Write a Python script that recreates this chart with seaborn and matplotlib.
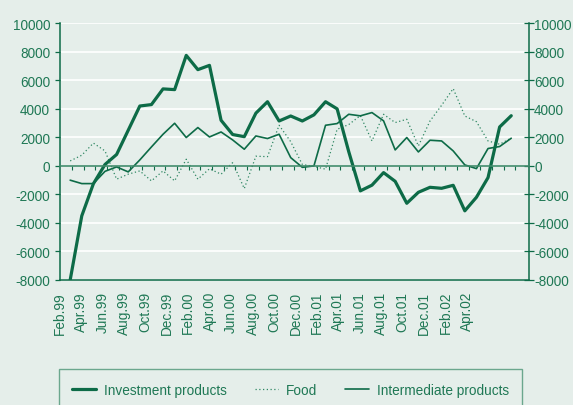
import numpy as np
import pandas as pd
import matplotlib
matplotlib.use("Agg")
import matplotlib.pyplot as plt
import seaborn as sns

# ---- data ----
month_labels = ["Feb.99", "Apr.99", "Jun.99", "Aug.99", "Oct.99", "Dec.99", "Feb.00", "Apr.00",
                "Jun.00", "Aug.00", "Oct.00", "Dec.00", "Feb.01", "Apr.01", "Jun.01", "Aug.01",
                "Oct.01", "Dec.01", "Feb.02", "Apr.02"]
months = list(range(39))  # Feb.99 .. Apr.02, monthly

investment = [-8000, -3500, -1250, 100, 800, 2500, 4200, 4300, 5400, 5350,
              7750, 6750, 7050, 3200, 2200, 2050, 3700, 4500, 3150, 3500,
              3150, 3580, 4500, 4000, 1000, -1750, -1350, -470, -1080, -2620,
              -1850, -1500, -1570, -1360, -3150, -2200, -820, 2730, 3520]
food = [350, 750, 1600, 1050, -930, -580, -350, -1050, -350, -1050,
        470, -930, -200, -580, 230, -1590, 680, 650, 2850, 1700,
        100, -30, -230, 2570, 2900, 3530, 1750, 3620, 3040, 3270,
        1400, 3150, 4250, 5420, 3500, 3100, 1750, 1520, 1950]
intermediate = [-1000, -1240, -1240, -380, -70, -420, 420, 1330, 2220, 2990,
                1990, 2690, 2030, 2380, 1820, 1170, 2100, 1920, 2220, 580,
                -100, 0, 2850, 2970, 3620, 3510, 3740, 3160, 1120, 1990,
                980, 1800, 1750, 1050, 70, -190, 1220, 1360, 1940]
y_ticks = [-8000, -6000, -4000, -2000, 0, 2000, 4000, 6000, 8000, 10000]

# ---- style ----
BG = "#e5eeea"
GREEN = "#0d6b47"
TXT = "#1f7855"
sns.set_style("white")
plt.rcParams["font.family"] = ["Liberation Sans", "DejaVu Sans"]
FS = 9.8

fig = plt.figure(figsize=(5.73, 4.06), dpi=100, facecolor=BG)
ax = fig.add_axes([59.5 / 573, 1 - 281 / 406, (529 - 59.5) / 573, (281 - 24.3) / 406])
ax.set_facecolor(BG)

df = pd.DataFrame({"month": months, "Investment products": investment,
                   "Food": food, "Intermediate products": intermediate})

sns.lineplot(data=df, x="month", y="Investment products", ax=ax, color=GREEN,
             lw=2.3, label="Investment products", legend=False, zorder=5)
sns.lineplot(data=df, x="month", y="Food", ax=ax, color="#2f8763",
             lw=0.9, linestyle=(0, (1, 2)), label="Food", legend=False, zorder=4)
sns.lineplot(data=df, x="month", y="Intermediate products", ax=ax, color=GREEN,
             lw=1.2, label="Intermediate products", legend=False, zorder=4)

xlim = (-0.7, 39.53)
ax.set_xlim(*xlim)
ax.set_ylim(-8000, 10000)
ax.set_xlabel("")
ax.set_ylabel("")

# grid
ax.set_yticks(y_ticks)
ax.yaxis.grid(True, color="white", lw=1.2)
ax.xaxis.grid(False)
ax.set_axisbelow(True)

# x labels
ax.set_xticks(np.linspace(-0.92, 34.2, len(month_labels)))
ax.set_xticklabels(month_labels, rotation=90, fontsize=FS, color=TXT)
ax.tick_params(axis="x", length=0, pad=8)

# left axis
ax.set_yticklabels([str(v) for v in y_ticks], fontsize=FS, color=TXT)
ax.tick_params(axis="y", direction="out", length=3.6, width=0.9, color=GREEN, pad=3.2)

for s in ["top", "right"]:
    ax.spines[s].set_visible(False)
for s in ["left", "bottom"]:
    ax.spines[s].set_color(GREEN)
    ax.spines[s].set_linewidth(1.1)

# right axis
axr = ax.twinx()
axr.set_ylim(-8000, 10000)
axr.set_yticks(y_ticks)
axr.set_yticklabels([str(v) for v in y_ticks], fontsize=FS, color=TXT)
axr.tick_params(axis="y", direction="inout", length=6.5, width=0.9, color=GREEN, pad=0.5)
for s in ["top", "left", "bottom"]:
    axr.spines[s].set_visible(False)
axr.spines["right"].set_color(GREEN)
axr.spines["right"].set_linewidth(1.1)

# zero line with month ticks
axz = ax.twiny()
axz.set_xlim(*xlim)
axz.xaxis.set_ticks_position("bottom")
axz.spines["bottom"].set_position(("data", 0))
for s in ["top", "left", "right"]:
    axz.spines[s].set_visible(False)
axz.spines["bottom"].set_color("#3f8a6a")
axz.spines["bottom"].set_linewidth(1.2)
axz.set_xticks(np.array(months) + 0.37)
axz.set_xticklabels([])
axz.tick_params(axis="x", direction="out", length=3, width=0.8, color=GREEN)

# legend
handles = ax.get_lines()[:3]
leg = fig.legend(handles, ["Investment products", "Food", "Intermediate products"],
                 loc="upper center", bbox_to_anchor=(290.5 / 573, 1 - 370 / 406),
                 ncol=3, fontsize=FS, frameon=True, fancybox=False,
                 handlelength=1.76, handletextpad=0.55, columnspacing=2.05,
                 borderpad=1.0, borderaxespad=0)
leg.get_frame().set_facecolor(BG)
leg.get_frame().set_edgecolor("#4d9677")
leg.get_frame().set_linewidth(1.0)
for t in leg.get_texts():
    t.set_color(TXT)

fig.savefig("out.png", dpi=100, facecolor=BG)
